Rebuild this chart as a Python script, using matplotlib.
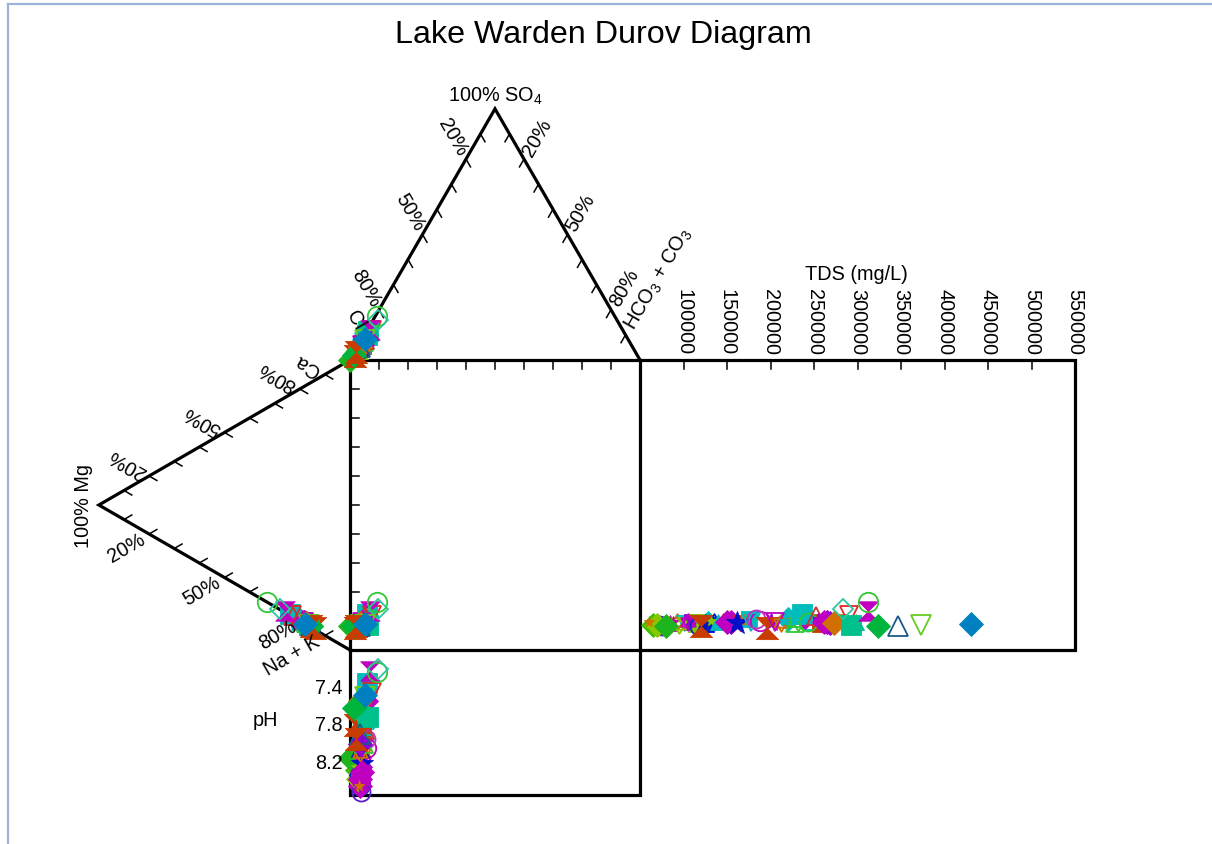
import numpy as np
import matplotlib
matplotlib.use("Agg")
import matplotlib.pyplot as plt
from matplotlib.lines import Line2D
from matplotlib.path import Path

plt.rcParams["font.family"] = ["Liberation Sans", "DejaVu Sans"]
plt.rcParams["mathtext.fontset"] = "custom"
plt.rcParams["mathtext.rm"] = "Liberation Sans"
plt.rcParams["mathtext.it"] = "Liberation Sans:italic"

# Lake Warden samples: marker style, colour, fill, size, TDS (mg/L), pH,
# anion fractions (SO4, HCO3+CO3; Cl is the rest) and cation fractions (Mg, Ca; Na+K is the rest)
sample_marker = ["D", "o", "^", "sd", "v", "s", "hg", "D", "sd", "^", "D", "v",
                 "s", "o", "*", "D", "sd", "^", "s", "D", "v", "^", "D",
                 "o", "D", "sd", "*", "D", "sd", "^", "o", "*", "^", "D", "^",
                 "*", "v", "o", "hg", "sd", "v", "^", "*", "s", "o", "^", "D",
                 "*", "D", "D", "v", "s", "hg", "o", "D", "^", "v", "*", "D",
                 "hg", "D"]
sample_color = ["#40c000", "#0030c0", "#c000c0", "#d07000", "#00bcbc", "#9000d0", "#88c800", "#00bcbc", "#0010c8", "#d07000", "#c000c0", "#c83c00",
                "#00bcbc", "#c000c0", "#9000d0", "#00bcbc", "#33c733", "#00bcbc", "#c83c00", "#9000d0", "#d07000", "#00c08c", "#c000c0",
                "#5a20c8", "#88c800", "#88c800", "#c000c0", "#1eb41e", "#c000c0", "#0010c8", "#0030c0", "#88c800", "#00bcbc", "#c000c0", "#d07000",
                "#0010c8", "#00bcbc", "#c030c0", "#c83c00", "#d07000", "#c000c0", "#33c733", "#00bcbc", "#00bcbc", "#33c733", "#d03030", "#9000d0",
                "#9000d0", "#c000c0", "#d07000", "#e02828", "#00c08c", "#c000c0", "#33c733", "#2ec4a0", "#1a5a8a", "#66cc22", "#d07000", "#00b43c",
                "#c83c00", "#0080c0"]
sample_filled = [True, False, True, False, True, True, True, True, False, True, True, True,
                 True, False, True, True, False, False, True, True, True, True, True,
                 False, True, False, True, True, False, True, False, True, True, True, True,
                 True, False, False, True, False, False, False, True, True, False, False, True,
                 True, True, True, False, True, True, False, False, False, False, True, True,
                 True, True]
sample_size = [12, 13, 12, 12, 12, 12, 13, 11, 12, 12, 12, 12,
               12, 14, 14, 12, 13, 13, 13, 12, 12, 12, 11,
               13, 12, 12, 8, 12, 12, 13, 13, 8, 11, 12, 7,
               17, 13, 13, 16, 12, 13, 13, 8, 14, 13, 13, 12,
               8, 12, 12, 13, 14, 14, 14, 10, 14, 14, 8, 12,
               16, 12]
tds = [65000, 72000, 85000, 92000, 100000, 110000, 115000, 128000, 135000, 145000, 155000, 165000,
       175000, 188000, 200000, 220000, 232000, 248000, 258000, 265000, 278000, 298000, 240000,
       75000, 70000, 95000, 88000, 80000, 105000, 125000, 118000, 132000, 140000, 150000, 170000,
       162000, 178000, 183000, 196000, 212000, 205000, 228000, 215000, 236000, 243000, 252000, 268000,
       255000, 261000, 273000, 290000, 293000, 312000, 312000, 283000, 347000, 373000, 60000, 323000,
       120000, 431000]
ph = [8.28, 8.45, 8.35, 8.10, 8.00, 8.40, 8.15, 7.95, 8.30, 8.05, 8.45, 7.90,
      7.60, 8.05, 8.40, 7.65, 7.95, 7.75, 7.85, 8.25, 7.70, 7.40, 7.55,
      8.52, 8.38, 8.30, 8.45, 8.15, 8.20, 8.05, 8.35, 8.25, 7.90, 8.38, 8.00,
      8.22, 8.00, 7.95, 7.80, 8.10, 8.05, 8.00, 7.70, 7.35, 7.70, 7.85, 8.00,
      7.60, 8.30, 7.55, 7.45, 7.72, 7.22, 7.23, 7.20, 7.90, 7.50, 8.45, 7.62,
      7.95, 7.48]
so4 = [0.030, 0.050, 0.060, 0.070, 0.050, 0.060, 0.040, 0.070, 0.050, 0.060, 0.050, 0.040,
       0.080, 0.090, 0.050, 0.080, 0.070, 0.080, 0.060, 0.050, 0.070, 0.090, 0.100,
       0.050, 0.040, 0.060, 0.030, 0.000, 0.070, 0.050, 0.040, 0.020, 0.060, 0.045, 0.080,
       0.060, 0.070, 0.090, 0.016, 0.050, 0.060, 0.070, 0.040, 0.100, 0.080, 0.080, 0.050,
       0.030, 0.060, 0.050, 0.120, 0.115, 0.120, 0.175, 0.160, 0.050, 0.080, 0.040, 0.020,
       0.030, 0.084]
hco3 = [0.010, 0.010, 0.010, 0.010, 0.010, 0.010, 0.010, 0.010, 0.010, 0.010, 0.010, 0.010,
        0.010, 0.010, 0.010, 0.010, 0.010, 0.010, 0.010, 0.010, 0.010, 0.010, 0.010,
        0.012, 0.008, 0.010, 0.010, 0.000, 0.010, 0.010, 0.012, 0.010, 0.010, 0.012, 0.010,
        0.010, 0.012, 0.010, 0.009, 0.010, 0.010, 0.012, 0.010, 0.010, 0.010, 0.012, 0.010,
        0.010, 0.010, 0.010, 0.015, 0.005, 0.010, 0.005, 0.015, 0.010, 0.010, 0.010, 0.005,
        0.005, 0.010]
mg = [0.165, 0.165, 0.175, 0.185, 0.175, 0.185, 0.175, 0.185, 0.185, 0.195, 0.185, 0.175,
      0.205, 0.195, 0.185, 0.205, 0.185, 0.195, 0.175, 0.185, 0.185, 0.185, 0.215,
      0.155, 0.165, 0.165, 0.185, 0.155, 0.185, 0.175, 0.155, 0.195, 0.185, 0.185, 0.205,
      0.175, 0.185, 0.205, 0.140, 0.175, 0.185, 0.175, 0.195, 0.240, 0.185, 0.225, 0.175,
      0.205, 0.185, 0.175, 0.230, 0.165, 0.260, 0.330, 0.280, 0.155, 0.165, 0.185, 0.155,
      0.155, 0.180]
ca = [0.004, 0.004, 0.004, 0.004, 0.004, 0.004, 0.004, 0.004, 0.004, 0.004, 0.004, 0.004,
      0.004, 0.004, 0.004, 0.004, 0.004, 0.004, 0.004, 0.004, 0.004, 0.004, 0.004,
      0.004, 0.004, 0.004, 0.004, 0.006, 0.004, 0.004, 0.004, 0.004, 0.004, 0.004, 0.004,
      0.004, 0.004, 0.004, 0.006, 0.004, 0.004, 0.004, 0.004, 0.004, 0.004, 0.004, 0.004,
      0.004, 0.004, 0.004, 0.004, 0.004, 0.004, 0.002, 0.002, 0.004, 0.004, 0.004, 0.006,
      0.006, 0.000]

tds_ticks = [100000, 150000, 200000, 250000, 300000, 350000, 400000, 450000, 500000, 550000]
ph_ticks = [7.4, 7.8, 8.2]
pct_labels = ["20%", "50%", "80%"]

S3 = np.sqrt(3) / 2
TDS_MIN, TDS_MAX, TDS_W = 50000, 550000, 1.5
PH_MIN, PH_MAX, PH_H = 7.0, 8.55, 0.5
PX = 1 / 290.0  # one pixel in diagram units

# custom marker shapes
hourglass = Path([(-1, 1), (1, 1), (0, 0), (-1, 1), (-1, -1), (1, -1), (0, 0), (-1, -1)],
                 [Path.MOVETO, Path.LINETO, Path.LINETO, Path.CLOSEPOLY,
                  Path.MOVETO, Path.LINETO, Path.LINETO, Path.CLOSEPOLY])
star_david = Path([(0, 1), (0.866, -0.5), (-0.866, -0.5), (0, 1),
                   (0, -1), (0.866, 0.5), (-0.866, 0.5), (0, -1)],
                  [Path.MOVETO, Path.LINETO, Path.LINETO, Path.CLOSEPOLY,
                   Path.MOVETO, Path.LINETO, Path.LINETO, Path.CLOSEPOLY])
marker_map = {"hg": hourglass, "sd": star_david}


def anion_xy(s, h):
    return h + 0.5 * s, 1 + S3 * s


def cation_xy(m, c):
    return -S3 * m, c + 0.5 * m


def tds_x(v):
    return 1 + (v - TDS_MIN) / (TDS_MAX - TDS_MIN) * TDS_W


def ph_y(v):
    return -(v - PH_MIN) / (PH_MAX - PH_MIN) * PH_H


fig = plt.figure(figsize=(12.12, 8.45), dpi=100)
ax = fig.add_axes([0, 0, 1, 1])
ax.set_xlim(-350 * PX, (1212 - 350) * PX)
ax.set_ylim((651 - 845) * PX, 651 * PX)
ax.set_aspect("equal")
ax.axis("off")

LW = 2.3
k = "black"
# frames
ax.plot([0, 1, 1, 0, 0], [0, 0, 1, 1, 0], color=k, lw=LW, solid_joinstyle="miter")
ax.plot([0, 0.5, 1], [1, 1 + S3, 1], color=k, lw=LW, solid_joinstyle="miter")
ax.plot([0, -S3, 0], [1, 0.5, 0], color=k, lw=LW, solid_joinstyle="miter")
ax.plot([1, 1 + TDS_W, 1 + TDS_W, 1], [1, 1, 0, 0], color=k, lw=LW, solid_joinstyle="miter")
ax.plot([0, 0, 1, 1], [0, -PH_H, -PH_H, 0], color=k, lw=LW, solid_joinstyle="miter")

TL = 9 * PX
tick_kw = dict(color=k, lw=1.1)
for f in np.arange(1, 10) / 10:
    # square ticks
    ax.plot([f, f], [1, 1 - TL], **tick_kw)
    ax.plot([0, TL], [f, f], **tick_kw)
    # top triangle, left and right edges
    p = np.array([0.5, 1 + S3]) + f * np.array([-0.5, -S3])
    ax.plot([p[0], p[0] + 0.5 * TL], [p[1], p[1] - S3 * TL], **tick_kw)
    p = np.array([0.5, 1 + S3]) + f * np.array([0.5, -S3])
    ax.plot([p[0], p[0] - 0.5 * TL], [p[1], p[1] - S3 * TL], **tick_kw)
    # left triangle, upper and lower edges
    p = np.array([-S3, 0.5]) + f * np.array([S3, 0.5])
    ax.plot([p[0], p[0] + S3 * TL], [p[1], p[1] - 0.5 * TL], **tick_kw)
    p = np.array([-S3, 0.5]) + f * np.array([S3, -0.5])
    ax.plot([p[0], p[0] + S3 * TL], [p[1], p[1] + 0.5 * TL], **tick_kw)

for v in tds_ticks[:-1]:
    ax.plot([tds_x(v)] * 2, [1, 1 - TL], **tick_kw)

FS = 14.3
OFF = 26 * PX
for f, lab in zip([0.2, 0.5, 0.8], pct_labels):
    p = np.array([0.5, 1 + S3]) + f * np.array([-0.5, -S3])
    ax.text(p[0] - 0.5 * OFF, p[1] + S3 * OFF, lab, rotation=-60, ha="center", va="center",
            rotation_mode="anchor", fontsize=FS)
    p = np.array([0.5, 1 + S3]) + f * np.array([0.5, -S3])
    ax.text(p[0] + 0.5 * OFF, p[1] + S3 * OFF, lab, rotation=60, ha="center", va="center",
            rotation_mode="anchor", fontsize=FS)
    p = np.array([-S3, 0.5]) + f * np.array([S3, 0.5])
    ax.text(p[0] - S3 * OFF, p[1] + 0.5 * OFF, lab, rotation=150, ha="center", va="center",
            rotation_mode="anchor", fontsize=FS)
    p = np.array([-S3, 0.5]) + f * np.array([S3, -0.5])
    ax.text(p[0] - S3 * OFF, p[1] - 0.5 * OFF, lab, rotation=30, ha="center", va="center",
            rotation_mode="anchor", fontsize=FS)

# corner names
d = 8 * PX
p = np.array([0.5, 1 + S3]) + 0.9 * np.array([-0.5, -S3])
ax.text(p[0] - 0.5 * d, p[1] + S3 * d, "Cl", rotation=-60, ha="right", va="center",
        rotation_mode="anchor", fontsize=FS)
p = np.array([0.5, 1 + S3]) + 0.9 * np.array([0.5, -S3])
ax.text(p[0] + 0.5 * d, p[1] + S3 * d, "HCO$_3$ + CO$_3$", rotation=60, ha="left", va="center",
        rotation_mode="anchor", fontsize=FS)
p = np.array([-S3, 0.5]) + 0.9 * np.array([S3, 0.5])
ax.text(p[0] - S3 * d, p[1] + 0.5 * d, "Ca", rotation=150, ha="left", va="center",
        rotation_mode="anchor", fontsize=FS)
p = np.array([-S3, 0.5]) + 0.9 * np.array([S3, -0.5])
ax.text(p[0] - S3 * d, p[1] - 0.5 * d, "Na + K", rotation=30, ha="right", va="center",
        rotation_mode="anchor", fontsize=FS)
ax.text(0.5, 1 + S3 + 3 * PX, "100% SO$_4$", ha="center", va="bottom", fontsize=FS)
ax.text(-S3 - 6 * PX, 0.5, "100% Mg", rotation=90, ha="right", va="center", fontsize=FS)

for v in tds_ticks:
    ax.text(tds_x(v), 1 + 6 * PX, str(v), rotation=270, ha="center", va="bottom", fontsize=FS)
ax.text(tds_x(299000), 1 + 86 * PX, "TDS (mg/L)", ha="center", va="center", fontsize=FS)

for v in ph_ticks:
    ax.text(-7 * PX, ph_y(v), f"{v:.1f}", ha="right", va="center", fontsize=FS)
ax.text(-85 * PX, ph_y(7.74), "pH", ha="center", va="center", fontsize=FS)

# samples, each drawn in both triangles, the square, the TDS strip and the pH strip
for i in range(len(tds)):
    ax_x, ax_y = anion_xy(so4[i], hco3[i])
    cx, cy = cation_xy(mg[i], ca[i])
    xs = [ax_x, cx, ax_x, tds_x(tds[i]), ax_x]
    ys = [ax_y, cy, cy, cy, ph_y(ph[i])]
    mk = marker_map.get(sample_marker[i], sample_marker[i])
    if sample_filled[i]:
        style = dict(markerfacecolor=sample_color[i], markeredgecolor=sample_color[i], markeredgewidth=0.6)
    else:
        style = dict(markerfacecolor="none", markeredgecolor=sample_color[i], markeredgewidth=1.3)
    ax.plot(xs, ys, linestyle="none", marker=mk, markersize=sample_size[i], clip_on=False, **style)

fig.text(0.498, 1 - 35 / 845, "Lake Warden Durov Diagram", ha="center", va="center", fontsize=23.2)

# thin window frame
frame_kw = dict(color="#9db4da", lw=1.6, transform=fig.transFigure)
fig.add_artist(Line2D([8 / 1212, 8 / 1212], [0, 1 - 5 / 845], **frame_kw))
fig.add_artist(Line2D([8 / 1212, 1], [1 - 5 / 845, 1 - 5 / 845], **frame_kw))

fig.savefig("out.png", dpi=100)
